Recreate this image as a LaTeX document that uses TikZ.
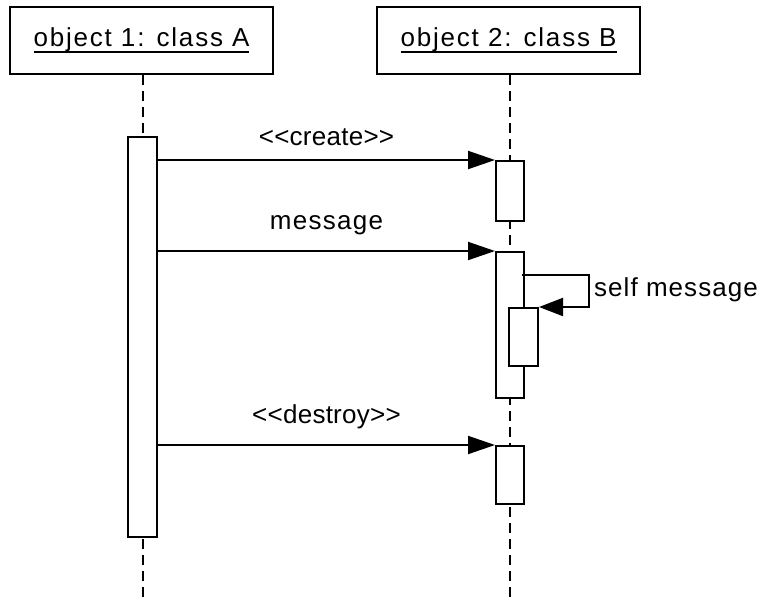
\documentclass[tikz,border=0pt]{standalone}
\usepackage{fontspec}
\usetikzlibrary{arrows.meta}
\setmainfont{Liberation Sans}
\newcommand\myul[1]{{\setbox0\hbox{#1}\rlap{\rule[-6pt]{\wd0}{2.3pt}}\box0}}
\newcommand\lsp[1]{\addfontfeature{LetterSpace=#1}}
\begin{document}
\begin{tikzpicture}[x=1pt,y=-1pt,
  objbox/.style={draw,line width=2pt,fill=white,minimum width=263pt,minimum height=67pt,inner sep=0pt,
    font=\fontsize{26}{31}\selectfont\lsp{7}},
  actbar/.style={draw,line width=2pt,fill=white,inner sep=0pt,minimum width=29pt},
  lifeline/.style={line width=2pt,dash pattern=on 10pt off 6pt},
  msg/.style={line width=2pt,-{Triangle[length=27pt,width=18pt]}},
  lbl/.style={font=\fontsize{26}{31}\selectfont,inner sep=0pt,anchor=base}]
\useasboundingbox (0,0) rectangle (767,600);
% objects
\node[objbox] (o1) at (141.5,40.5) {\myul{object 1: class A}};
\node[objbox] (o2) at (508.5,40.5) {\myul{object 2: class B}};
\coordinate (e1) at (142.5,600);
\coordinate (e2) at (510,600);
\draw[lifeline] (o1.south -| e1) -- (e1);
\draw[lifeline] (o2.south -| e2) -- (e2);
% activation bars
\node[actbar,minimum height=400pt] (a1) at (142.5,337) {};
\node[actbar,minimum width=28pt,minimum height=60pt] (b1) at (510,191) {};
\node[actbar,minimum width=28pt,minimum height=146pt] (b2) at (510,325) {};
\node[actbar,minimum height=58pt] (b3) at (523.5,337) {};
\node[actbar,minimum width=28pt,minimum height=58pt] (b4) at (510,475) {};
% messages
\draw[msg] (b1.north west -| a1.east) -- node[lbl,above=13pt] {\lsp{1}<{}<create>{}>} (b1.north west);
\draw[msg] (b2.north west -| a1.east) -- node[lbl,above=15pt] {\lsp{5}message} (b2.north west);
\draw[msg] (b4.north west -| a1.east) -- node[lbl,above=15pt] {\lsp{1}<{}<destroy>{}>} (b4.north west);
% self message
\coordinate (s0) at (522,275);
\coordinate (s1) at (589,275);
\draw[line width=2pt,-{Triangle[length=24pt,width=18pt]}] (s0) -- (s1) |- (b3.north east);
\node[lbl,anchor=base west] (sl) at (594,296.7) {\lsp{4}self message};
\end{tikzpicture}
\end{document}
